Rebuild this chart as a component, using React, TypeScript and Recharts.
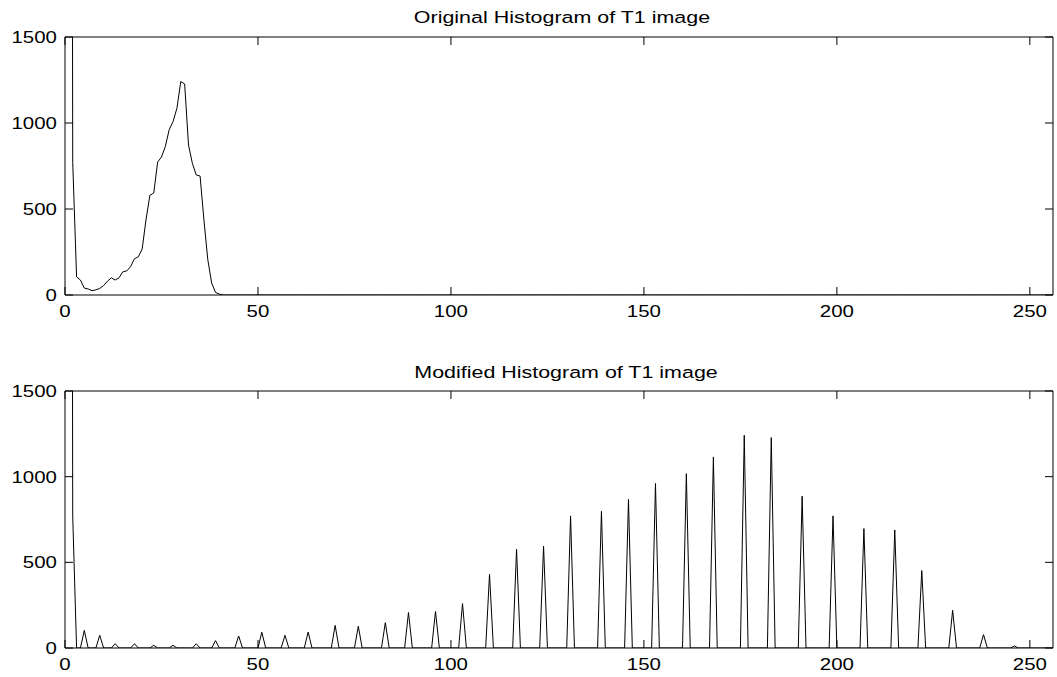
import { Line, LineChart, XAxis, YAxis } from "recharts"

// bin counts (bins 1..40, the rest are empty)
const originalCounts = [
  15000, 770, 106, 87, 40, 35, 25, 30, 38, 55, 80, 100, 87, 100, 135, 140, 165, 211, 222, 268,
  440, 580, 593, 773, 802, 864, 961, 1009, 1086, 1241, 1227, 872, 766, 698, 692, 436, 205, 70, 15, 5,
]

// equalized histogram: occupied bins and their counts
const modifiedBins = [
  1, 2, 5, 9, 13, 18, 23, 28, 34, 39, 45, 51, 57, 63, 70, 76, 83, 89, 96, 103, 110, 117, 124, 131,
  139, 146, 153, 161, 168, 176, 183, 191, 199, 207, 215, 222, 230, 238, 246,
]
const modifiedCounts = [
  15000, 770, 103, 74, 25, 25, 16, 16, 25, 43, 70, 92, 74, 93, 132, 127, 148, 207, 214, 259, 430,
  576, 594, 771, 798, 868, 960, 1018, 1115, 1242, 1228, 886, 771, 697, 689, 452, 220, 78, 12,
]

const xTicks = [0, 50, 100, 150, 200, 250]
const yTicks = [0, 500, 1000, 1500]
const titles = ["Original Histogram of T1 image", "Modified Histogram of T1 image"]

const NBINS = 256
const bins = Array.from({ length: NBINS }, (_, i) => i + 1)

const originalData = bins.map((b) => ({ bin: b, count: originalCounts[b - 1] ?? 0 }))
const modifiedData = bins.map((b) => {
  const k = modifiedBins.indexOf(b)
  return { bin: b, count: k >= 0 ? modifiedCounts[k] : 0 }
})

const FONT = "'Liberation Sans', Arial, Helvetica, sans-serif"
const FS = 16.5
const STRETCH = 1.24
const TICK = 8

// ticks point into the plot box, matlab style; x/y arrive on the axis line
function BottomTick(props: any) {
  const { x, y, payload } = props
  return (
    <g>
      <line x1={x} y1={y} x2={x} y2={y - TICK} stroke="#000" />
      <text
        transform={`translate(${x},${y + 22}) scale(${STRETCH},1)`}
        textAnchor="middle"
        fontFamily={FONT}
        fontSize={FS}
        fill="#000"
      >
        {payload.value}
      </text>
    </g>
  )
}

function TopTick(props: any) {
  const { x, y } = props
  return <line x1={x} y1={y} x2={x} y2={y + TICK} stroke="#000" />
}

function LeftTick(props: any) {
  const { x, y, payload } = props
  return (
    <g>
      <line x1={x} y1={y} x2={x + TICK} y2={y} stroke="#000" />
      <text
        transform={`translate(${x - 8},${y + 6}) scale(${STRETCH},1)`}
        textAnchor="end"
        fontFamily={FONT}
        fontSize={FS}
        fill="#000"
      >
        {payload.value}
      </text>
    </g>
  )
}

function RightTick(props: any) {
  const { x, y } = props
  return <line x1={x} y1={y} x2={x - TICK} y2={y} stroke="#000" />
}

const axisStroke = { stroke: "#000", strokeWidth: 1 }

function Panel({ data, height }: { data: { bin: number; count: number }[]; height: number }) {
  return (
    <LineChart width={1057} height={height} data={data} margin={{ top: 36, right: 3, bottom: 0, left: 0 }}>
      <XAxis
        dataKey="bin"
        type="number"
        domain={[0, NBINS]}
        ticks={xTicks}
        interval={0}
        height={45}
        tickSize={0}
        tickMargin={0}
        axisLine={axisStroke}
        tickLine={false}
        tick={<BottomTick />}
        allowDataOverflow
      />
      <XAxis
        xAxisId="top"
        dataKey="bin"
        orientation="top"
        type="number"
        domain={[0, NBINS]}
        ticks={xTicks}
        interval={0}
        height={1}
        tickSize={0}
        tickMargin={0}
        axisLine={axisStroke}
        tickLine={false}
        tick={<TopTick />}
        allowDataOverflow
      />
      <YAxis
        type="number"
        domain={[0, 1500]}
        ticks={yTicks}
        interval={0}
        width={65}
        tickSize={0}
        tickMargin={0}
        axisLine={axisStroke}
        tickLine={false}
        tick={<LeftTick />}
        allowDataOverflow
      />
      <YAxis
        yAxisId="right"
        orientation="right"
        type="number"
        domain={[0, 1500]}
        ticks={yTicks}
        interval={0}
        width={1}
        tickSize={0}
        tickMargin={0}
        axisLine={axisStroke}
        tickLine={false}
        tick={<RightTick />}
        allowDataOverflow
      />
      {/* invisible series so the top/right frame axes are laid out */}
      <Line
        xAxisId="top"
        yAxisId="right"
        dataKey="count"
        stroke="none"
        dot={false}
        activeDot={false}
        legendType="none"
        isAnimationActive={false}
      />
      <Line
        type="linear"
        dataKey="count"
        stroke="#000"
        strokeWidth={1}
        dot={false}
        activeDot={false}
        isAnimationActive={false}
      />
    </LineChart>
  )
}

export default function App() {
  return (
    <div
      style={{
        position: "absolute",
        left: 0,
        top: 0,
        width: 1057,
        height: 677,
        overflow: "hidden",
        background: "#fff",
      }}
    >
      <div style={{ position: "absolute", left: 0, top: 0 }}>
        <Panel data={originalData} height={340} />
      </div>
      <div style={{ position: "absolute", left: 0, top: 354 }}>
        <Panel data={modifiedData} height={339} />
      </div>
      <svg width={1057} height={677} style={{ position: "absolute", left: 0, top: 0, pointerEvents: "none" }}>
        <text
          transform={`translate(562,23) scale(1.3,1)`}
          textAnchor="middle"
          fontFamily={FONT}
          fontSize={FS}
          fill="#000"
        >
          {titles[0]}
        </text>
        <text
          transform={`translate(566,378) scale(1.3,1)`}
          textAnchor="middle"
          fontFamily={FONT}
          fontSize={FS}
          fill="#000"
        >
          {titles[1]}
        </text>
      </svg>
    </div>
  )
}
